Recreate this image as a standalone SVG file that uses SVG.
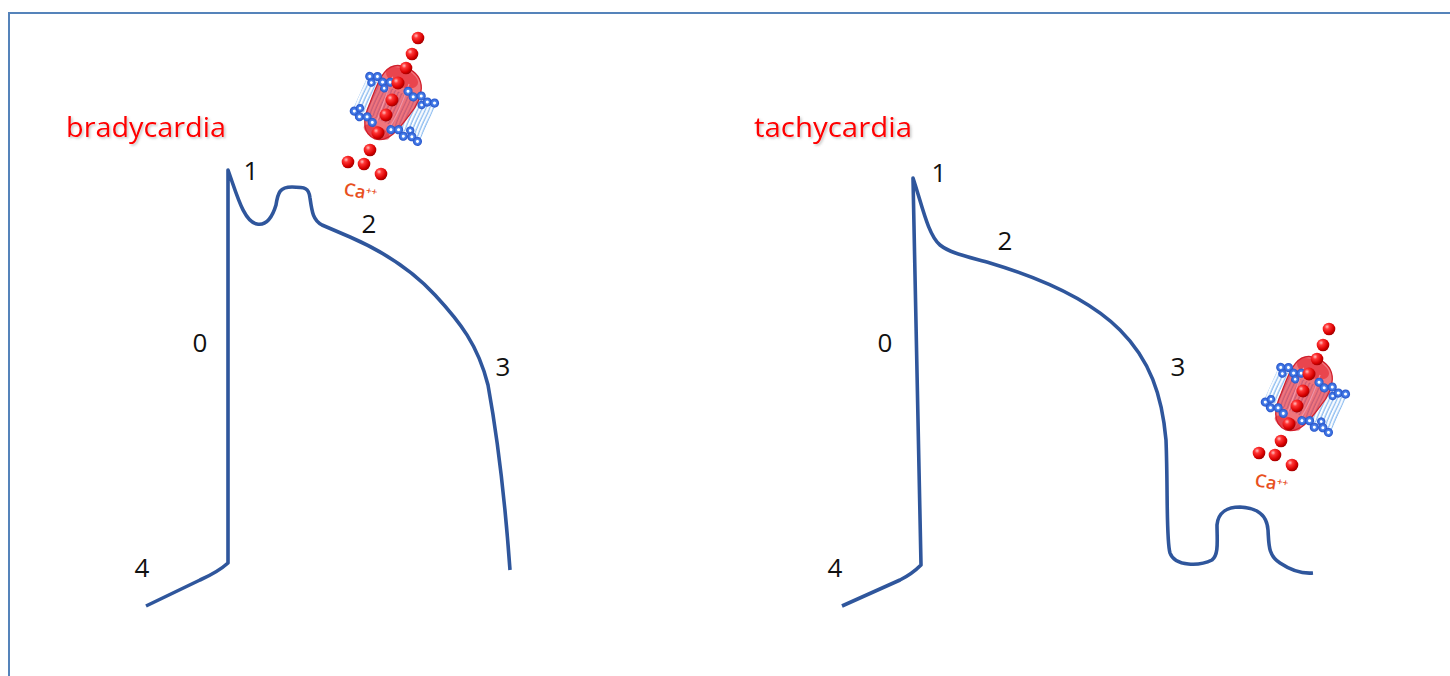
<svg xmlns="http://www.w3.org/2000/svg" xmlns:xlink="http://www.w3.org/1999/xlink" width="1450" height="676" viewBox="0 0 1450 676">
  <style>
    .frame { fill: none; stroke: #5583ba; stroke-width: 2; }
    .trace { fill: none; stroke: #2f569c; stroke-width: 3.6; stroke-linejoin: round; stroke-linecap: butt; }
    .title { font-family: "Open Sans", "Liberation Sans", sans-serif; font-size: 28px; fill: #ff0000; filter: url(#softShadow); }
    .phase { font-family: "Open Sans", "Liberation Sans", sans-serif; font-size: 26px; fill: #111111; text-anchor: middle; }
    .ion { font-family: "Open Sans", "Liberation Sans", sans-serif; font-size: 18px; font-weight: 600; fill: #e8501e; }
    .ball { fill: url(#ballGrad); }
    .head { fill: url(#headGrad); }
  </style>
  <defs>
    <filter id="softShadow" x="-10%" y="-20%" width="130%" height="160%">
      <feDropShadow dx="1.5" dy="1.5" stdDeviation="0.8" flood-color="#555555" flood-opacity="0.35"/>
    </filter>
    <radialGradient id="ballGrad" cx="0.35" cy="0.32" r="0.7">
      <stop offset="0" stop-color="#ffc0c0"/>
      <stop offset="0.28" stop-color="#ff3535"/>
      <stop offset="0.75" stop-color="#d80000"/>
      <stop offset="1" stop-color="#a00000"/>
    </radialGradient>
    <radialGradient id="headGrad" cx="0.5" cy="0.5" r="0.5">
      <stop offset="0" stop-color="#ffffff"/>
      <stop offset="0.22" stop-color="#ffffff"/>
      <stop offset="0.4" stop-color="#4f86ee"/>
      <stop offset="1" stop-color="#2452c8"/>
    </radialGradient>
    <pattern id="tails" width="3.5" height="32" patternUnits="userSpaceOnUse" x="0" y="-16">
      <path d="M1,0 C2.2,8 0,18 1.6,32" fill="none" stroke="#8ebdf0" stroke-width="1.4"/>
    </pattern>

    <!-- calcium channel sitting in a membrane, origin at membrane centre -->
    <g id="ca-channel">
      <g transform="rotate(24)">
        <!-- lipid tails -->
        <rect x="-37" y="-17" width="74" height="34" fill="url(#tails)"/>
        <!-- channel protein -->
        <path d="M-5,-42 C18,-42 23,-22 17,0 C13,18 9,34 -5,36 C-20,36 -24,21 -24,5 C-25,-15 -29,-42 -5,-42 Z"
              fill="#e8202c" fill-opacity="0.62" stroke="#d0202c" stroke-width="1.3"/>
        <ellipse cx="-5" cy="-31" rx="17" ry="9" fill="#e52530" fill-opacity="0.6"/>
        <path d="M-14,-28 C-12,-5 -10,15 -10,30 M4,-28 C6,-5 6,15 2,30" fill="none" stroke="#f7a0b0" stroke-width="1.2" opacity="0.8"/>
        <ellipse cx="-6" cy="29" rx="14" ry="6" fill="#d81c28" fill-opacity="0.55"/>
        <!-- lipid heads, outer leaflet -->
        <circle class="head" cx="-35" cy="-19" r="4.6"/>
        <circle class="head" cx="-28" cy="-22" r="4.6"/>
        <circle class="head" cx="-31" cy="-14" r="4.2"/>
        <circle class="head" cx="-21" cy="-19" r="4.6"/>
        <circle class="head" cx="-14" cy="-22" r="4.6"/>
        <circle class="head" cx="-17" cy="-14" r="4"/>
        <circle class="head" cx="6" cy="-21" r="4.6"/>
        <circle class="head" cx="13" cy="-18" r="4.6"/>
        <circle class="head" cx="20" cy="-22" r="4.6"/>
        <circle class="head" cx="24" cy="-14" r="4.2"/>
        <circle class="head" cx="28" cy="-19" r="4.6"/>
        <circle class="head" cx="35" cy="-21" r="4.6"/>
        <!-- lipid heads, inner leaflet -->
        <circle class="head" cx="-35" cy="19" r="4.6"/>
        <circle class="head" cx="-28" cy="22" r="4.6"/>
        <circle class="head" cx="-31" cy="14" r="4.2"/>
        <circle class="head" cx="-21" cy="19" r="4.6"/>
        <circle class="head" cx="-14" cy="22" r="4.6"/>
        <circle class="head" cx="6" cy="21" r="4.6"/>
        <circle class="head" cx="13" cy="18" r="4.6"/>
        <circle class="head" cx="20" cy="22" r="4.6"/>
        <circle class="head" cx="24" cy="14" r="4.2"/>
        <circle class="head" cx="28" cy="19" r="4.6"/>
        <circle class="head" cx="35" cy="21" r="4.6"/>
      </g>
      <!-- Ca2+ ions -->
      <circle class="ball" cx="24" cy="-70" r="6.3"/>
      <circle class="ball" cx="18" cy="-54" r="6.3"/>
      <circle class="ball" cx="12" cy="-40" r="6.3"/>
      <circle class="ball" cx="4" cy="-25" r="6.5"/>
      <circle class="ball" cx="-2" cy="-8" r="6.5"/>
      <circle class="ball" cx="-8" cy="7" r="6.5"/>
      <circle class="ball" cx="-16" cy="25" r="6.5"/>
      <circle class="ball" cx="-24" cy="42" r="6.3"/>
      <circle class="ball" cx="-46" cy="54" r="6.3"/>
      <circle class="ball" cx="-30" cy="56" r="6.3"/>
      <circle class="ball" cx="-13" cy="66" r="6.3"/>
      <text class="ion" transform="translate(-51,87) rotate(10)">Ca<tspan font-size="10" dy="-5">++</tspan></text>
    </g>
  </defs>

  <!-- slide frame -->
  <rect class="frame" x="9" y="13" width="1460" height="700"/>

  <!-- left panel: bradycardia -->
  <g id="bradycardia-title">
    <text class="title" x="66" y="137" textLength="160" lengthAdjust="spacingAndGlyphs">bradycardia</text>
  </g>
  <g id="bradycardia-channel">
    <use xlink:href="#ca-channel" href="#ca-channel" transform="translate(394,108)"/>
  </g>
  <g id="bradycardia-labels">
    <text class="phase" x="251" y="180">1</text>
    <text class="phase" x="369" y="233">2</text>
    <text class="phase" x="200" y="352">0</text>
    <text class="phase" x="503" y="376">3</text>
    <text class="phase" x="142" y="577">4</text>
  </g>

  <!-- right panel: tachycardia -->
  <g id="tachycardia-title">
    <text class="title" x="754" y="137" textLength="158" lengthAdjust="spacingAndGlyphs">tachycardia</text>
  </g>
  <g id="tachycardia-channel">
    <use xlink:href="#ca-channel" href="#ca-channel" transform="translate(1305,399)"/>
  </g>
  <g id="tachycardia-labels">
    <text class="phase" x="939" y="182">1</text>
    <text class="phase" x="1005" y="250">2</text>
    <text class="phase" x="885" y="352">0</text>
    <text class="phase" x="1178" y="376">3</text>
    <text class="phase" x="835" y="577">4</text>
  </g>

  <!-- action potential traces -->
  <g id="traces">
    <path class="trace" d="M146,606 L200,580 Q218,572 228,563 L228,170 C237,195 244,222 257,224 C268,226 273,215 276,205 C278,192 280,187 292,187 C305,187 309,188 310,198 C312,212 313,220 322,225 L350,237 C380,250 410,268 435,295 C460,322 478,345 488,385 C498,440 505,500 510,570"/>
    <path class="trace" d="M842,606 L900,580 Q912,574 921,565 L913,178 C922,205 928,235 940,245 C950,253 965,256 990,263 C1040,278 1090,300 1120,330 C1150,360 1162,395 1166,440 C1168,490 1166,540 1170,553 C1175,567 1200,566 1212,560 C1219,555 1217,540 1217,525 C1218,512 1228,507 1240,507 C1258,508 1267,515 1268,530 C1269,545 1268,555 1280,563 C1292,571 1302,574 1313,573"/>
  </g>
</svg>
